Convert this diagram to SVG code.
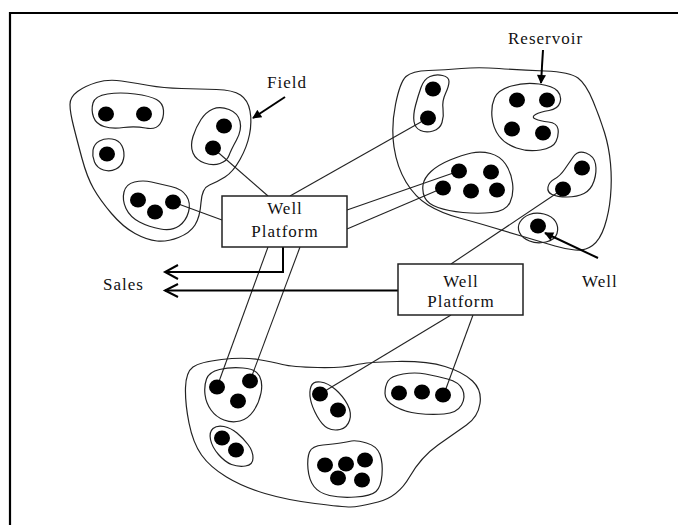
<svg xmlns="http://www.w3.org/2000/svg" width="678" height="525" viewBox="0 0 678 525">
<style>
.blob{fill:none;stroke:#222;stroke-width:1.2;stroke-linejoin:round}
.dot{fill:#000}
.conn{stroke:#222;stroke-width:1.1;fill:none}
.thick{stroke:#000;stroke-width:2;fill:none;stroke-linejoin:miter}
.box{fill:#fff;stroke:#222;stroke-width:1.5}
.t{font-family:"Liberation Serif","Times New Roman",serif;font-size:17px;letter-spacing:1px;fill:#111}
.c{text-anchor:middle}
</style>
<defs>
<marker id="head" viewBox="0 0 10 10" refX="9" refY="5" markerWidth="11" markerHeight="9" markerUnits="userSpaceOnUse" orient="auto">
<path d="M0,0 L10,5 L0,10 Z" fill="#000"/>
</marker>
</defs>
<rect width="678" height="525" fill="#fff"/>
<path d="M10,525 V13 H678" stroke="#000" stroke-width="2.2" fill="none"/>

<g id="field">
<path class="blob" d="M70,104.5 Q70,97 77.5,91.5 Q85,86 96.5,82.5 Q108,79 121.5,81 Q135,83 149,85.5 Q163,88 181.5,88.5 Q200,89 216.5,89.5 Q233,90 240.5,95 Q248,100 250,111 Q252,122 249.5,134.5 Q247,147 240,159.5 Q233,172 225,177 Q217,182 209.5,185 Q202,188 201,202.5 Q200,217 195,225 Q190,233 178.5,237.5 Q167,242 157,241 Q147,240 135,233.5 Q123,227 111.5,213.5 Q100,200 93.5,188.5 Q87,177 82,158.5 Q77,140 73.5,126 Q70,112 70,104.5 Z"/>
<path class="blob" d="M93,103 Q95,96 107.5,94 Q120,92 135,94 Q150,96 156.5,99.5 Q163,103 163.5,110.5 Q164,118 160,124 Q156,130 145.5,128 Q135,126 123.5,127.5 Q112,129 104,126.5 Q96,124 93.5,117 Q91,110 93,103 Z"/>
<path class="blob" d="M93,150 Q94,144 99.5,141 Q105,138 112,139 Q119,140 122,146 Q125,152 123.5,159 Q122,166 116,169 Q110,172 103.5,170 Q97,168 94.5,162 Q92,156 93,150 Z"/>
<path class="blob" d="M213,109 Q220,106 229,109.5 Q238,113 240,121.5 Q242,130 236.5,140 Q231,150 229,155.5 Q227,161 220,163.5 Q213,166 204.5,163 Q196,160 193,153 Q190,146 193,136.5 Q196,127 201,119.5 Q206,112 213,109 Z"/>
<path class="blob" d="M124,192 Q126,184 134.5,182 Q143,180 151.5,182 Q160,184 171,186.5 Q182,189 186.5,196 Q191,203 188.5,212 Q186,221 179,226 Q172,231 160.5,229 Q149,227 139.5,222 Q130,217 126,208.5 Q122,200 124,192 Z"/>
</g>

<g id="reservoir">
<path class="blob" d="M395.5,104.5 Q400,82 406,76.5 Q412,71 428.5,70.5 Q445,70 461.5,68.5 Q478,67 499,68.5 Q520,70 545,71 Q570,72 578,78 Q586,84 593,101 Q600,118 604.5,132.5 Q609,147 610.5,163.5 Q612,180 610.5,196.5 Q609,213 604.5,226.5 Q600,240 592.5,245.5 Q585,251 575,250 Q565,249 555,246 Q545,243 523,236.5 Q501,230 489.5,226.5 Q478,223 459.5,218 Q441,213 428,205 Q415,197 406,182 Q397,167 394,147 Q391,127 395.5,104.5 Z"/>
<path class="blob" d="M421,87.5 Q424,79 430,76.5 Q436,74 442.5,75.5 Q449,77 449,81.5 Q449,86 445.5,93.5 Q442,101 443,108.5 Q444,116 442,122.5 Q440,129 433,131 Q426,133 420.5,130.5 Q415,128 414,121.5 Q413,115 415.5,105.5 Q418,96 421,87.5 Z"/>
<path class="blob" d="M494.5,98 Q498,90 511.5,86 Q525,82 539,84 Q553,86 557.5,91 Q562,96 560,102.5 Q558,109 549,110.5 Q540,112 535.5,114.5 Q531,117 535.5,119 Q540,121 548.5,122 Q557,123 558,129 Q559,135 556,141.5 Q553,148 540.5,150 Q528,152 516.5,148 Q505,144 499,136 Q493,128 492,117 Q491,106 494.5,98 Z"/>
<path class="blob" d="M423,185 Q424,178 431,171.5 Q438,165 450,160 Q462,155 471.5,153 Q481,151 490.5,153.5 Q500,156 505.5,164 Q511,172 512.5,183 Q514,194 510,202.5 Q506,211 492,212.5 Q478,214 463,212.5 Q448,211 438,207.5 Q428,204 425,198 Q422,192 423,185 Z"/>
<path class="blob" d="M573.5,156.5 Q578,150 586,153 Q594,156 595.5,164 Q597,172 594,181 Q591,190 584,193.5 Q577,197 567,197 Q557,197 552,194.5 Q547,192 548,187 Q549,182 554.5,179 Q560,176 564.5,169.5 Q569,163 573.5,156.5 Z"/>
<path class="blob" d="M529.5,214.5 Q536,212 544,214 Q552,216 555.5,221.5 Q559,227 557,233.5 Q555,240 546,242 Q537,244 529.5,241 Q522,238 519.5,232.5 Q517,227 520,222 Q523,217 529.5,214.5 Z"/>
</g>

<g id="bottom-field">
<path class="blob" d="M185.5,387.5 Q186,372 193,367 Q200,362 221.5,359.5 Q243,357 258,359.5 Q273,362 282.5,364.5 Q292,367 317.5,367.5 Q343,368 355,365 Q367,362 397,361.5 Q427,361 445,366.5 Q463,372 472.5,381 Q482,390 480,403.5 Q478,417 466.5,425 Q455,433 438,445 Q421,457 409.5,477 Q398,497 378,502 Q358,507 350.5,507 Q343,507 315,503.5 Q287,500 265,493.5 Q243,487 226.5,477 Q210,467 201.5,455 Q193,443 189,423 Q185,403 185.5,387.5 Z"/>
<path class="blob" d="M206.5,379 Q209,372 219.5,369.5 Q230,367 243,368 Q256,369 259.5,376 Q263,383 261,393 Q259,403 253.5,411 Q248,419 240,421 Q232,423 224,420 Q216,417 211,410 Q206,403 205,394.5 Q204,386 206.5,379 Z"/>
<path class="blob" d="M213,428.5 Q217,425 224,426.5 Q231,428 237,433 Q243,438 248,444.5 Q253,451 253,458 Q253,465 245.5,466 Q238,467 231.5,464.5 Q225,462 218.5,454.5 Q212,447 210.5,439.5 Q209,432 213,428.5 Z"/>
<path class="blob" d="M311,386.5 Q313,381 320.5,382 Q328,383 335.5,389.5 Q343,396 347.5,404.5 Q352,413 349.5,420.5 Q347,428 340,429.5 Q333,431 327.5,428 Q322,425 317,416 Q312,407 310.5,399.5 Q309,392 311,386.5 Z"/>
<path class="blob" d="M388,381 Q391,376 403,374 Q415,372 425.5,374 Q436,376 447.5,379 Q459,382 462.5,389.5 Q466,397 461.5,405 Q457,413 444,414 Q431,415 418,413.5 Q405,412 395,406.5 Q385,401 385,393.5 Q385,386 388,381 Z"/>
<path class="blob" d="M309.5,452 Q312,446 323,445 Q334,444 340.5,443 Q347,442 351.5,441 Q356,440 366.5,443 Q377,446 380,454.5 Q383,463 382,475 Q381,487 376,491.5 Q371,496 355.5,497 Q340,498 329.5,495.5 Q319,493 314,486.5 Q309,480 308,469 Q307,458 309.5,452 Z"/>
</g>

<g id="connectors">
<line class="conn" x1="213" y1="148" x2="268" y2="196"/>
<line class="conn" x1="173" y1="202" x2="222" y2="220"/>
<line class="conn" x1="290" y1="196" x2="428" y2="118"/>
<line class="conn" x1="347" y1="210" x2="459" y2="171"/>
<line class="conn" x1="347" y1="229" x2="443" y2="188"/>
<line class="conn" x1="563" y1="189" x2="451" y2="264"/>
<line class="conn" x1="268" y1="247" x2="217" y2="387"/>
<line class="conn" x1="300" y1="247" x2="250" y2="381"/>
<line class="conn" x1="451" y1="315" x2="320" y2="394"/>
<line class="conn" x1="473" y1="315" x2="444" y2="394"/>
<path class="thick" d="M283,247 V272 H165"/>
<path class="thick" d="M178,265 L165,272 L178,279"/>
<path class="thick" d="M398,290.5 H165"/>
<path class="thick" d="M178,284 L165,290.5 L178,297"/>
<line class="thick" x1="285" y1="97" x2="253" y2="118" marker-end="url(#head)"/>
<line class="thick" x1="543" y1="50" x2="541" y2="83" marker-end="url(#head)"/>
<line class="thick" x1="598" y1="258" x2="545" y2="233" marker-end="url(#head)"/>
</g>

<g id="dots">
<ellipse class="dot" cx="106" cy="114" rx="8" ry="7.5"/>
<ellipse class="dot" cx="144" cy="114" rx="8" ry="7.5"/>
<ellipse class="dot" cx="107" cy="154" rx="8" ry="7.5"/>
<ellipse class="dot" cx="224" cy="126" rx="8" ry="7.5"/>
<ellipse class="dot" cx="213" cy="148" rx="8" ry="7.5"/>
<ellipse class="dot" cx="138" cy="200" rx="8" ry="7.5"/>
<ellipse class="dot" cx="155" cy="212" rx="8" ry="7.5"/>
<ellipse class="dot" cx="173" cy="202" rx="8" ry="7.5"/>
<ellipse class="dot" cx="433" cy="89" rx="8" ry="7.5"/>
<ellipse class="dot" cx="428" cy="118" rx="8" ry="7.5"/>
<ellipse class="dot" cx="517" cy="100" rx="8" ry="7.5"/>
<ellipse class="dot" cx="547" cy="100" rx="8" ry="7.5"/>
<ellipse class="dot" cx="512" cy="129" rx="8" ry="7.5"/>
<ellipse class="dot" cx="543" cy="133" rx="8" ry="7.5"/>
<ellipse class="dot" cx="459" cy="171" rx="8" ry="7.5"/>
<ellipse class="dot" cx="491" cy="172" rx="8" ry="7.5"/>
<ellipse class="dot" cx="443" cy="188" rx="8" ry="7.5"/>
<ellipse class="dot" cx="471" cy="191" rx="8" ry="7.5"/>
<ellipse class="dot" cx="497" cy="190" rx="8" ry="7.5"/>
<ellipse class="dot" cx="582" cy="168" rx="8" ry="7.5"/>
<ellipse class="dot" cx="563" cy="189" rx="8" ry="7.5"/>
<ellipse class="dot" cx="538" cy="226" rx="8" ry="7.5"/>
<ellipse class="dot" cx="217" cy="387" rx="8" ry="7.5"/>
<ellipse class="dot" cx="250" cy="381" rx="8" ry="7.5"/>
<ellipse class="dot" cx="238" cy="401" rx="8" ry="7.5"/>
<ellipse class="dot" cx="222" cy="438" rx="8" ry="7.5"/>
<ellipse class="dot" cx="236" cy="450" rx="8" ry="7.5"/>
<ellipse class="dot" cx="320" cy="394" rx="8" ry="7.5"/>
<ellipse class="dot" cx="338" cy="410" rx="8" ry="7.5"/>
<ellipse class="dot" cx="399" cy="393" rx="8" ry="7.5"/>
<ellipse class="dot" cx="422" cy="392" rx="8" ry="7.5"/>
<ellipse class="dot" cx="443" cy="395" rx="8" ry="7.5"/>
<ellipse class="dot" cx="325" cy="465" rx="8" ry="7.5"/>
<ellipse class="dot" cx="346" cy="464" rx="8" ry="7.5"/>
<ellipse class="dot" cx="365" cy="460" rx="8" ry="7.5"/>
<ellipse class="dot" cx="338" cy="478" rx="8" ry="7.5"/>
<ellipse class="dot" cx="362" cy="480" rx="8" ry="7.5"/>
</g>

<g id="platform1">
<rect class="box" x="222" y="196" width="125" height="51"/>
<text class="t c" x="285" y="214">Well</text>
<text class="t c" x="285" y="237">Platform</text>
</g>
<g id="platform2">
<rect class="box" x="398" y="264" width="125" height="51"/>
<text class="t c" x="461" y="287">Well</text>
<text class="t c" x="461" y="307">Platform</text>
</g>

<g id="labels">
<text class="t" x="267" y="88">Field</text>
<text class="t" x="508" y="44">Reservoir</text>
<text class="t" x="582" y="287">Well</text>
<text class="t" x="103" y="290">Sales</text>
</g>
</svg>
